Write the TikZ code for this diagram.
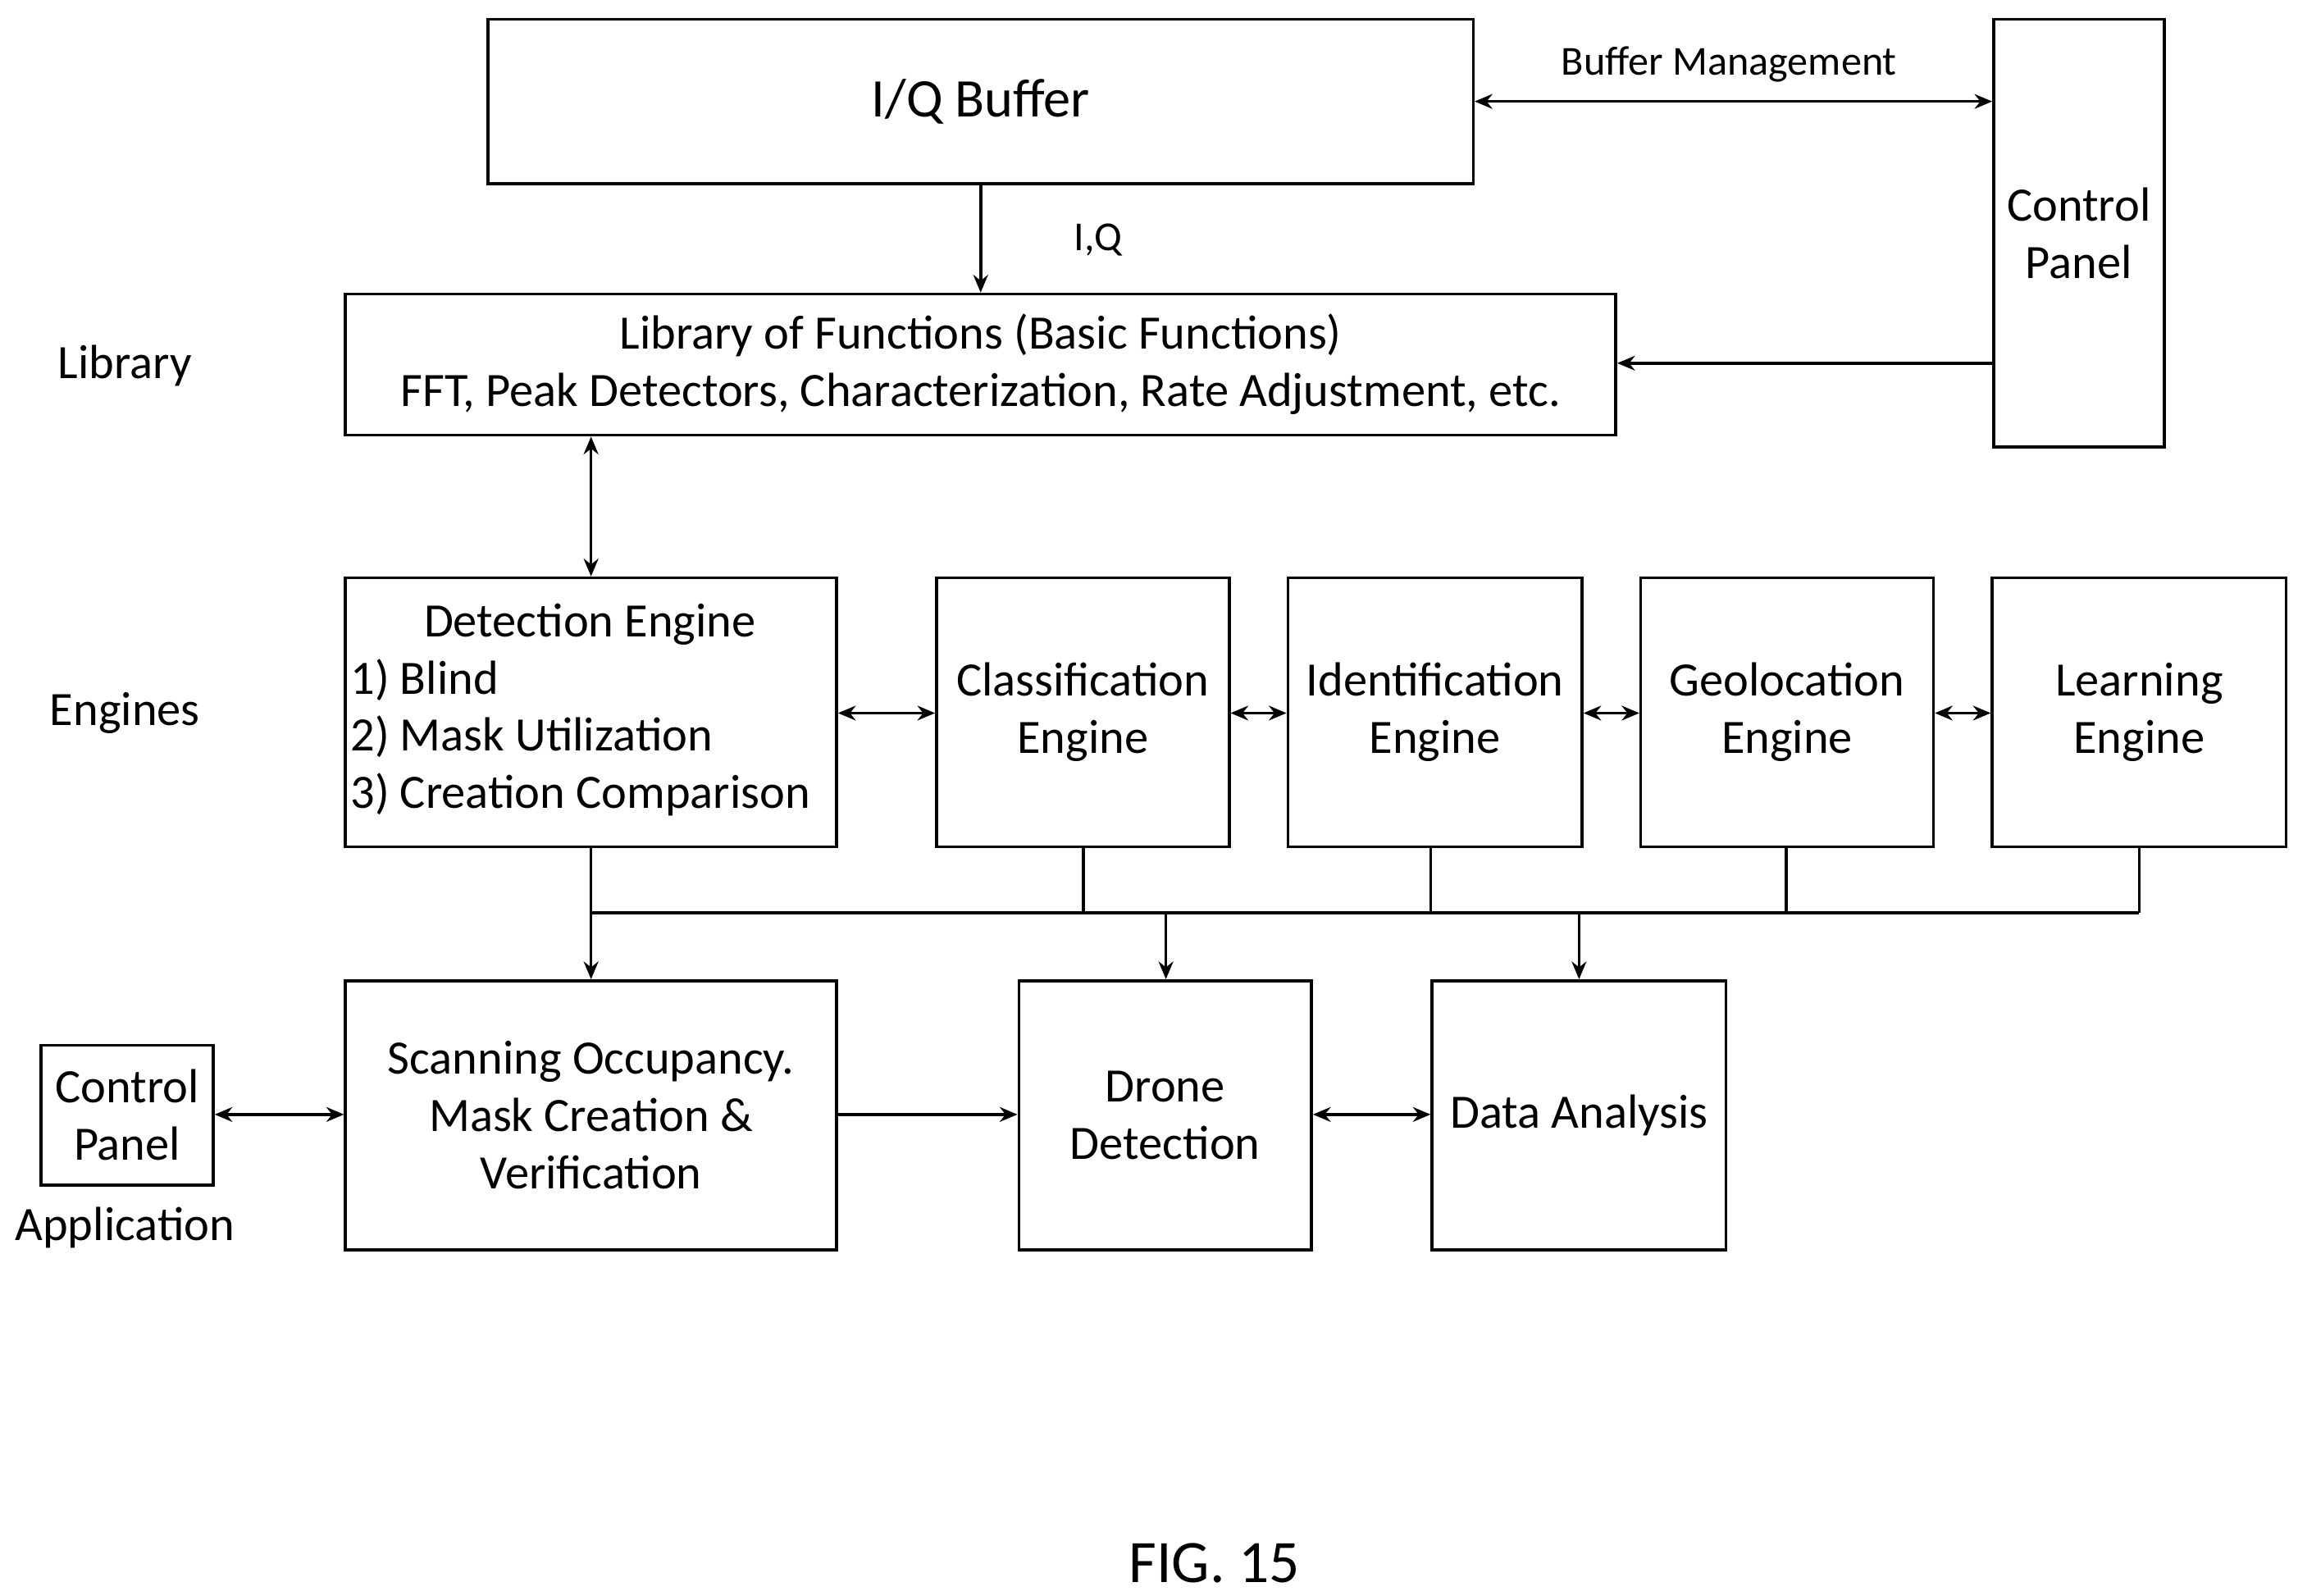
\documentclass[tikz,border=0pt]{standalone}
\usepackage{fontspec}
\setmainfont{Carlito}
\usetikzlibrary{arrows.meta}
\begin{document}
\begin{tikzpicture}[x=0.5pt,y=-0.5pt,
  box/.style={draw,line width=1pt,align=center,inner sep=0pt},
  ar/.style={line width=1pt,-{Stealth[length=6pt,width=5pt]}},
  dar/.style={line width=1pt,{Stealth[length=6pt,width=5pt]}-{Stealth[length=6pt,width=5pt]}},
  txt/.style={font=\fontsize{16.3}{19.5}\selectfont}]
\useasboundingbox (0,0) rectangle (1563,1085);
\newcommand{\bx}[6]{\node[box,txt,minimum width={(#4-#2)*0.5pt-1pt},minimum height={(#5-#3)*0.5pt-1pt}] (#1) at ({(#2+#4)/2},{(#3+#5)/2}) {#6};}
\node[box,minimum width=335pt,minimum height=56pt,font=\fontsize{18.5}{22}\selectfont] (iq) at (667,69) {I/Q Buffer};
\bx{cp}{1355}{12}{1473}{305}{Control\\Panel}
\bx{lib}{234}{199}{1100}{297}{Library of Functions (Basic Functions)\\FFT, Peak Detectors, Characterization, Rate Adjustment, etc.}
\bx{det}{234}{392}{570}{577}{}
\node[txt,align=left,anchor=north west,inner sep=0pt] at (238,410) {\hspace*{25pt}Detection Engine\\1) Blind\\2) Mask Utilization\\3) Creation Comparison};
\bx{cls}{636}{392}{837}{577}{Classification\\Engine}
\bx{idf}{875}{392}{1077}{577}{Identification\\Engine}
\bx{geo}{1115}{392}{1316}{577}{Geolocation\\Engine}
\bx{lrn}{1354}{392}{1556}{577}{Learning\\Engine}
\bx{scn}{234}{666}{570}{851}{Scanning Occupancy.\\Mask Creation \&\\Verification}
\bx{drn}{692}{666}{893}{851}{Drone\\Detection}
\bx{dat}{973}{666}{1175}{851}{Data Analysis}
\bx{cpl}{27}{710}{146}{807}{Control\\Panel}
\node[txt] at (85,249) {Library};
\node[txt] at (85,485) {Engines};
\node[txt] at (85,835) {Application};
\node[font=\fontsize{14}{16}\selectfont] at (1176,44) {Buffer Management};
\node[font=\fontsize{14}{16}\selectfont] at (747,163) {I,Q};
\node[font=\fontsize{20.5}{24}\selectfont] at (826,1063) {FIG. 15};
\draw[ar] (iq.south -| 667,0) -- (lib.north -| 667,0);
\draw[dar] (iq.east |- 0,69) -- (cp.west |- 0,69);
\draw[ar] (cp.west |- 0,247) -- (lib.east |- 0,247);
\draw[dar] (lib.south -| 402,0) -- (det.north -| 402,0);
\draw[dar] (det.east |- 0,485) -- (cls.west |- 0,485);
\draw[dar] (cls.east |- 0,485) -- (idf.west |- 0,485);
\draw[dar] (idf.east |- 0,485) -- (geo.west |- 0,485);
\draw[dar] (geo.east |- 0,485) -- (lrn.west |- 0,485);
\coordinate (b1) at (402,621); \coordinate (b2) at (1455,621);
\draw[line width=1pt] (b1) -- (b2);
\foreach \n/\x in {det/402,cls/737,idf/973,geo/1215,lrn/1455}
  \draw[line width=1pt] (\n.south -| \x,0) -- (\x,621);
\draw[ar] (b1) -- (scn.north -| 402,0);
\draw[ar] (793,621) -- (drn.north -| 793,0);
\draw[ar] (1074,621) -- (dat.north -| 1074,0);
\draw[dar] (cpl.east |- 0,758) -- (scn.west |- 0,758);
\draw[ar] (scn.east |- 0,758) -- (drn.west |- 0,758);
\draw[dar] (drn.east |- 0,758) -- (dat.west |- 0,758);
\end{tikzpicture}
\end{document}
